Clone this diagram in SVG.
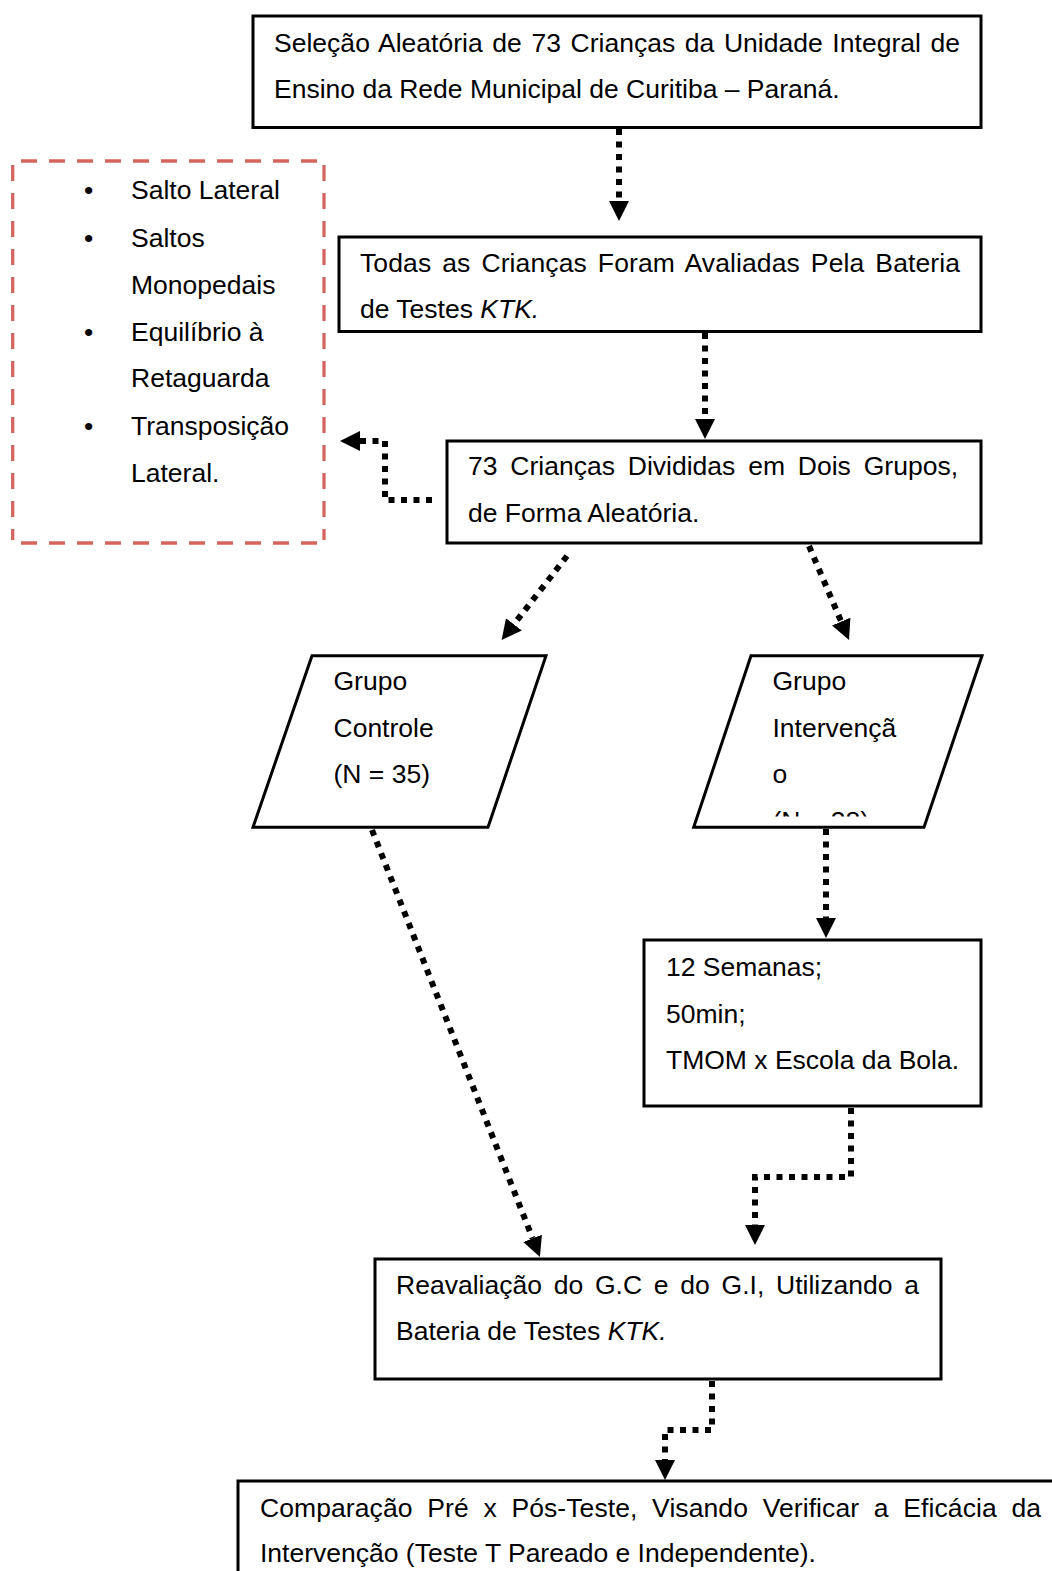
<svg xmlns="http://www.w3.org/2000/svg" width="1052" height="1571" viewBox="0 0 1052 1571">
<style>
.box{fill:#fff;stroke:#000;stroke-width:3}
.t{font-family:"Liberation Sans",Arial,sans-serif;font-size:26.5px;fill:#000}
.i{font-style:italic}
.con{fill:none;stroke:#000;stroke-width:6;stroke-dasharray:6 6.5}
.dash{fill:none;stroke:#d4665f;stroke-width:3.3;stroke-dasharray:16 12}
</style>
<defs>
<marker id="ah" markerUnits="userSpaceOnUse" markerWidth="20" markerHeight="20" refX="0" refY="10" orient="auto" viewBox="0 0 20 20">
<path d="M0,0 L20,10 L0,20 z" fill="#000"/>
</marker>
<clipPath id="clipGI"><rect x="690" y="650" width="300" height="166.5"/></clipPath>
</defs>
<rect width="1052" height="1571" fill="#fff"/>

<g id="n1">
<rect class="box" x="253" y="16" width="728" height="111.5"/>
<text class="t" x="274" y="52" word-spacing="2.2" textLength="686" lengthAdjust="spacing">Seleção Aleatória de 73 Crianças da Unidade Integral de</text>
<text class="t" x="274" y="98">Ensino da Rede Municipal de Curitiba – Paraná.</text>
</g>

<g id="n2">
<rect class="box" x="339" y="237" width="642" height="94.5"/>
<text class="t" x="360" y="272" word-spacing="3.5" textLength="600" lengthAdjust="spacing">Todas as Crianças Foram Avaliadas Pela Bateria</text>
<text class="t" x="360" y="318">de Testes <tspan class="i">KTK.</tspan></text>
</g>

<g id="n3">
<rect class="box" x="447" y="441" width="534" height="102"/>
<text class="t" x="468" y="475" word-spacing="5.5" textLength="490" lengthAdjust="spacing">73 Crianças Divididas em Dois Grupos,</text>
<text class="t" x="468" y="521.5">de Forma Aleatória.</text>
</g>

<g id="nList">
<line class="dash" x1="21" y1="161" x2="324" y2="161"/>
<line class="dash" x1="21" y1="543" x2="324" y2="543"/>
<line class="dash" x1="12.7" y1="165" x2="12.7" y2="540"/>
<line class="dash" x1="324" y1="165" x2="324" y2="540"/>
<text class="t" x="84" y="199">•</text>
<text class="t" x="131" y="199">Salto Lateral</text>
<text class="t" x="84" y="246.5">•</text>
<text class="t" x="131" y="246.5">Saltos</text>
<text class="t" x="131" y="293.5">Monopedais</text>
<text class="t" x="84" y="340.5">•</text>
<text class="t" x="131" y="340.5">Equilíbrio à</text>
<text class="t" x="131" y="387">Retaguarda</text>
<text class="t" x="84" y="434.5">•</text>
<text class="t" x="131" y="434.5">Transposição</text>
<text class="t" x="131" y="481.5">Lateral.</text>
</g>

<g id="nGC">
<polygon class="box" points="312,655.7 546,655.7 488,827.3 253,827.3"/>
<text class="t" x="333.5" y="690">Grupo</text>
<text class="t" x="333.5" y="736.5">Controle</text>
<text class="t" x="333.5" y="783">(N = 35)</text>
</g>

<g id="nGI">
<polygon class="box" points="751,655.7 982,655.7 924,827.3 693.7,827.3"/>
<g clip-path="url(#clipGI)">
<text class="t" x="772.5" y="690">Grupo</text>
<text class="t" x="772.5" y="736.5">Intervençã</text>
<text class="t" x="772.5" y="783">o</text>
<text class="t" x="772.5" y="829.5">(N = 38)</text>
</g>
</g>

<g id="n4">
<rect class="box" x="644" y="940" width="337" height="166"/>
<text class="t" x="666" y="975.5">12 Semanas;</text>
<text class="t" x="666" y="1022.5">50min;</text>
<text class="t" x="666" y="1068.5">TMOM x Escola da Bola.</text>
</g>

<g id="n5">
<rect class="box" x="375" y="1259" width="566" height="120"/>
<text class="t" x="396" y="1293.5" word-spacing="4.4" textLength="523" lengthAdjust="spacing">Reavaliação do G.C e do G.I, Utilizando a</text>
<text class="t" x="396" y="1339.5">Bateria de Testes <tspan class="i">KTK.</tspan></text>
</g>

<g id="n6">
<rect class="box" x="238" y="1481" width="830" height="120"/>
<text class="t" x="260" y="1517" word-spacing="7.2" textLength="781" lengthAdjust="spacing">Comparação Pré x Pós-Teste, Visando Verificar a Eficácia da</text>
<text class="t" x="260" y="1562">Intervenção (Teste T Pareado e Independente).</text>
</g>

<g id="connectors">
<path class="con" d="M619,129 L619,201" marker-end="url(#ah)"/>
<path class="con" d="M705,333 L705,419" marker-end="url(#ah)"/>
<path class="con" d="M432,500 L385,500 L385,441 L360,441" marker-end="url(#ah)"/>
<path class="con" d="M567,556 L513.9,624.3" marker-end="url(#ah)"/>
<path class="con" d="M809,546 L841.2,621.6" marker-end="url(#ah)"/>
<path class="con" d="M372,830 L532.6,1238.4" marker-end="url(#ah)"/>
<path class="con" d="M826,829 L826,918" marker-end="url(#ah)"/>
<path class="con" d="M851,1108 L851,1177 L755,1177 L755,1225" marker-end="url(#ah)"/>
<path class="con" d="M712,1381 L712,1430 L665,1430 L665,1460" marker-end="url(#ah)"/>
</g>
</svg>
